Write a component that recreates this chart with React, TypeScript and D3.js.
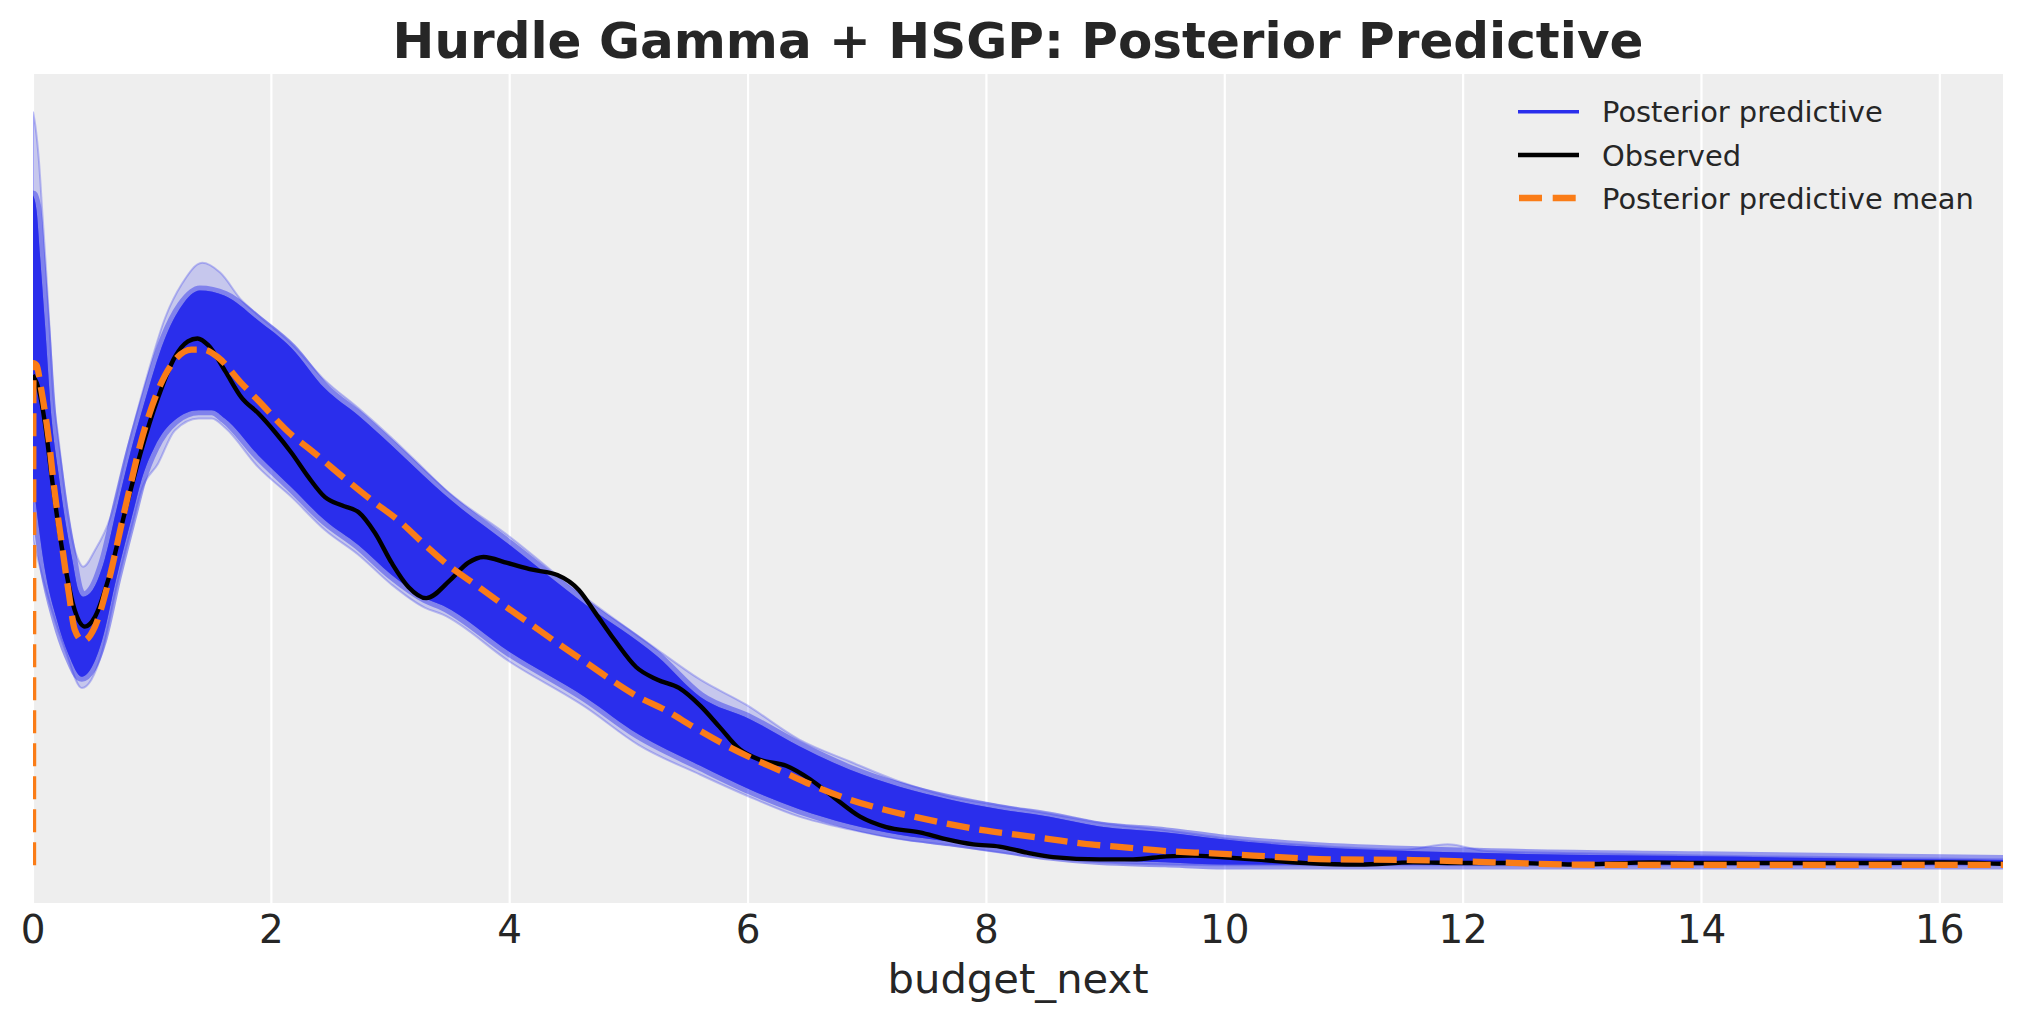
import React from "react";
import * as d3 from "d3";

const W = 2023;
const H = 1023;
const M = { left: 33, right: 2003, top: 74, bottom: 903 };

const title = "Hurdle Gamma + HSGP: Posterior Predictive";
const xLabel = "budget_next";
const xDomainMax = 16.53;
const xTicks = [0, 2, 4, 6, 8, 10, 12, 14, 16];
const legendLabels = ["Posterior predictive", "Observed", "Posterior predictive mean"];

const C_PP = "#2a2eec";
const C_OBS = "#000000";
const C_MEAN = "#fa7c17";

// Observed KDE
const observed: [number, number][] = [
  [0.0, 0.655], [0.05, 0.635], [0.1, 0.591], [0.157, 0.519], [0.21, 0.457], [0.27, 0.399],
  [0.35, 0.341], [0.436, 0.319], [0.52, 0.332], [0.63, 0.381], [0.77, 0.471], [0.91, 0.555],
  [1.05, 0.625], [1.19, 0.679], [1.3, 0.7], [1.38, 0.704], [1.47, 0.695], [1.61, 0.661],
  [1.75, 0.625], [1.89, 0.604], [2.03, 0.579], [2.17, 0.551], [2.31, 0.519], [2.45, 0.492],
  [2.59, 0.481], [2.73, 0.472], [2.87, 0.444], [3.01, 0.404], [3.15, 0.372], [3.3, 0.357],
  [3.5, 0.381], [3.65, 0.404], [3.78, 0.412], [3.98, 0.404], [4.19, 0.395], [4.4, 0.388],
  [4.58, 0.368], [4.72, 0.337], [4.88, 0.301], [5.06, 0.265], [5.24, 0.248], [5.42, 0.237],
  [5.6, 0.213], [5.76, 0.185], [5.93, 0.155], [6.1, 0.141], [6.32, 0.133], [6.52, 0.115],
  [6.71, 0.092], [6.94, 0.065], [7.16, 0.051], [7.44, 0.044], [7.66, 0.035], [7.89, 0.028],
  [8.11, 0.025], [8.34, 0.017], [8.56, 0.011], [8.95, 0.008], [9.23, 0.008], [9.51, 0.012],
  [9.73, 0.013], [9.96, 0.011], [10.24, 0.008], [10.68, 0.003], [11.13, 0.001], [11.58, 0.004],
  [12.02, 0.003], [12.47, 0.003], [12.92, 0.001], [13.59, 0.004], [14.03, 0.003], [14.7, 0.003],
  [15.37, 0.003], [16.04, 0.004], [16.53, 0.002],
];

// Posterior predictive mean KDE
const ppMean: [number, number][] = [
  [0.0, 0.0], [0.004, 0.671], [0.03, 0.668], [0.07, 0.635], [0.13, 0.572], [0.18, 0.501],
  [0.24, 0.431], [0.3, 0.364], [0.35, 0.315], [0.42, 0.3], [0.52, 0.319], [0.63, 0.377],
  [0.77, 0.475], [0.91, 0.568], [1.05, 0.635], [1.19, 0.675], [1.33, 0.689], [1.43, 0.689],
  [1.55, 0.679], [1.75, 0.644], [1.89, 0.621], [2.17, 0.575], [2.33, 0.555], [2.63, 0.515],
  [2.84, 0.488], [3.08, 0.459], [3.29, 0.428], [3.5, 0.399], [3.74, 0.372], [3.92, 0.351],
  [4.16, 0.324], [4.4, 0.297], [4.64, 0.271], [4.85, 0.248], [5.08, 0.225], [5.3, 0.208],
  [5.54, 0.185], [5.76, 0.165], [6.02, 0.144], [6.29, 0.125], [6.57, 0.105], [6.85, 0.088],
  [7.13, 0.075], [7.42, 0.064], [7.69, 0.055], [7.97, 0.047], [8.25, 0.041], [8.53, 0.035],
  [8.81, 0.029], [9.09, 0.025], [9.51, 0.019], [9.9, 0.016], [10.24, 0.013], [10.9, 0.008],
  [11.58, 0.007], [12.25, 0.004], [12.92, 0.001], [13.6, 0.0005], [15.0, 0.0005], [16.53, 0.0005],
];

// Envelope of the posterior predictive KDE samples: faint outer extent
const ppOuterUpper: [number, number][] = [
  [0.0, 1.007], [0.02, 0.988], [0.05, 0.941], [0.08, 0.868], [0.11, 0.795], [0.14, 0.715],
  [0.17, 0.628], [0.21, 0.575], [0.27, 0.495], [0.33, 0.435], [0.38, 0.408], [0.42, 0.399],
  [0.52, 0.421], [0.65, 0.465], [0.79, 0.555], [0.94, 0.644], [1.11, 0.732], [1.25, 0.777],
  [1.42, 0.805], [1.57, 0.792], [1.75, 0.755], [1.89, 0.735], [2.17, 0.697], [2.45, 0.648],
  [2.73, 0.611], [3.01, 0.571], [3.29, 0.528], [3.44, 0.505], [4.0, 0.439], [4.64, 0.357],
  [5.24, 0.288], [5.6, 0.248], [5.98, 0.215], [6.43, 0.168], [6.85, 0.139], [7.27, 0.112],
  [7.69, 0.092], [8.11, 0.08], [8.53, 0.069], [8.95, 0.057], [9.51, 0.047], [9.96, 0.037],
  [10.68, 0.027], [11.5, 0.021], [11.87, 0.028], [12.2, 0.019], [13.0, 0.016], [14.0, 0.013],
  [15.0, 0.011], [16.0, 0.009], [16.53, 0.008],
];
const ppOuterLower: [number, number][] = [
  [0.0, 0.435], [0.157, 0.341], [0.27, 0.288], [0.41, 0.237], [0.49, 0.248], [0.58, 0.285],
  [0.7, 0.371], [0.84, 0.459], [0.91, 0.501], [1.05, 0.537], [1.19, 0.581], [1.39, 0.597],
  [1.5, 0.597], [1.61, 0.585], [1.89, 0.532], [2.17, 0.492], [2.45, 0.448], [2.73, 0.415],
  [3.01, 0.375], [3.29, 0.344], [3.44, 0.335], [4.0, 0.272], [4.64, 0.211], [5.08, 0.161],
  [5.6, 0.121], [6.02, 0.091], [6.43, 0.065], [6.85, 0.048], [7.27, 0.035], [7.69, 0.027],
  [8.11, 0.017], [8.53, 0.009], [8.95, 0.004], [9.5, 0.001], [10.0, 0.0], [16.53, 0.0],
];
// Dense core of the posterior predictive samples
const ppInnerUpper: [number, number][] = [
  [0.0, 0.895], [0.03, 0.875], [0.06, 0.812], [0.1, 0.724], [0.157, 0.595], [0.21, 0.528],
  [0.27, 0.461], [0.33, 0.408], [0.38, 0.368], [0.42, 0.359], [0.5, 0.368], [0.6, 0.408],
  [0.7, 0.475], [0.8, 0.541], [0.94, 0.621], [1.1, 0.701], [1.25, 0.748], [1.4, 0.768],
  [1.61, 0.761], [1.89, 0.728], [2.17, 0.691], [2.45, 0.637], [2.73, 0.601], [3.01, 0.561],
  [3.29, 0.519], [3.44, 0.497], [4.0, 0.428], [4.64, 0.348], [5.24, 0.279], [5.6, 0.225],
  [6.02, 0.195], [6.43, 0.159], [6.85, 0.128], [7.27, 0.105], [7.69, 0.088], [8.11, 0.075],
  [8.53, 0.065], [8.95, 0.052], [9.51, 0.044], [9.96, 0.035], [10.68, 0.025], [12.0, 0.017],
  [14.0, 0.012], [16.53, 0.007],
];
const ppInnerLower: [number, number][] = [
  [0.0, 0.515], [0.1, 0.395], [0.2, 0.328], [0.3, 0.281], [0.41, 0.252], [0.49, 0.264],
  [0.58, 0.301], [0.7, 0.384], [0.84, 0.472], [0.91, 0.515], [1.02, 0.559], [1.19, 0.595],
  [1.39, 0.608], [1.5, 0.608], [1.61, 0.597], [1.89, 0.548], [2.17, 0.505], [2.45, 0.461],
  [2.73, 0.428], [3.01, 0.388], [3.29, 0.357], [3.44, 0.347], [4.0, 0.285], [4.64, 0.224],
  [5.08, 0.175], [5.6, 0.133], [6.02, 0.101], [6.43, 0.075], [6.85, 0.055], [7.27, 0.041],
  [7.69, 0.032], [8.11, 0.023], [8.53, 0.013], [8.95, 0.007], [9.5, 0.004], [10.0, 0.001],
  [16.53, 0.001],
];

const FONT = "'DejaVu Sans', Verdana, sans-serif";
const TEXT = "#262626";

export default function App() {
  const x = d3.scaleLinear().domain([0, xDomainMax]).range([M.left, M.right]);
  const yMaxData = d3.max(
    [observed, ppMean, ppOuterUpper, ppInnerUpper].flat(),
    (d) => d[1]
  ) as number;
  const y = d3
    .scaleLinear()
    .domain([-0.05 * yMaxData, 1.05 * yMaxData])
    .range([M.bottom, M.top]);

  const line = d3
    .line<[number, number]>()
    .x((d) => x(d[0]))
    .y((d) => y(d[1]))
    .curve(d3.curveMonotoneX);

  const band = (upper: [number, number][], lower: [number, number][]) => {
    const up = line(upper) as string;
    const lo = line([...lower].reverse()) as string;
    return up + "L" + lo.slice(1) + "Z";
  };

  const outerPath = band(ppOuterUpper, ppOuterLower);
  const innerPath = band(ppInnerUpper, ppInnerLower);

  const legendX0 = 1518;
  const legendX1 = 1579;
  const legendY = [111.7, 155, 198];

  return (
    <svg
      width={W}
      height={H}
      viewBox={`0 0 ${W} ${H}`}
      style={{ position: "absolute", left: 0, top: 0, background: "#ffffff" }}
      fontFamily={FONT}
    >
      <defs>
        <clipPath id="plotClip">
          <rect x={M.left} y={M.top} width={M.right - M.left} height={M.bottom - M.top} />
        </clipPath>
      </defs>
      <rect x={0} y={0} width={W} height={H} fill="#ffffff" />
      <rect
        x={M.left}
        y={M.top}
        width={M.right - M.left}
        height={M.bottom - M.top}
        fill="#eeeeee"
      />
      {xTicks.map((t) => (
        <line
          key={"g" + t}
          x1={x(t)}
          x2={x(t)}
          y1={M.top}
          y2={M.bottom}
          stroke="#ffffff"
          strokeWidth={2.2}
        />
      ))}

      <g clipPath="url(#plotClip)">
        <path d={outerPath} fill={C_PP} fillOpacity={0.2} stroke={C_PP} strokeOpacity={0.28} strokeWidth={2} />
        <path d={innerPath} fill={C_PP} fillOpacity={0.55} stroke={C_PP} strokeOpacity={0.45} strokeWidth={10} strokeLinejoin="round" />
        <path d={innerPath} fill={C_PP} fillOpacity={1} stroke="none" />
        <path d={line(observed) as string} fill="none" stroke={C_OBS} strokeWidth={4.4} strokeLinejoin="round" />
        <path
          d={line(ppMean) as string}
          fill="none"
          stroke={C_MEAN}
          strokeWidth={6.3}
          strokeDasharray="23 10"
        />
      </g>

      {xTicks.map((t) => (
        <text
          key={"t" + t}
          x={x(t)}
          y={943}
          textAnchor="middle"
          fontSize={38.9}
          fill={TEXT}
        >
          {t}
        </text>
      ))}
      <text
        x={(M.left + M.right) / 2}
        y={993}
        textAnchor="middle"
        fontSize={41.7}
        fill={TEXT}
      >
        {xLabel}
      </text>
      <text
        x={(M.left + M.right) / 2}
        y={58}
        textAnchor="middle"
        fontSize={50}
        fontWeight="bold"
        fill={TEXT}
      >
        {title}
      </text>

      <g>
        <line x1={legendX0} x2={legendX1} y1={legendY[0]} y2={legendY[0]} stroke={C_PP} strokeWidth={3.6} />
        <line x1={legendX0} x2={legendX1} y1={legendY[1]} y2={legendY[1]} stroke={C_OBS} strokeWidth={4.5} />
        <line
          x1={legendX0 + 1}
          x2={legendX1}
          y1={legendY[2]}
          y2={legendY[2]}
          stroke={C_MEAN}
          strokeWidth={6.5}
          strokeDasharray="23 10.7"
        />
        {legendLabels.map((l, i) => (
          <text key={l} x={1602} y={legendY[i] + 10.5} fontSize={28.9} fill={TEXT}>
            {l}
          </text>
        ))}
      </g>
    </svg>
  );
}
